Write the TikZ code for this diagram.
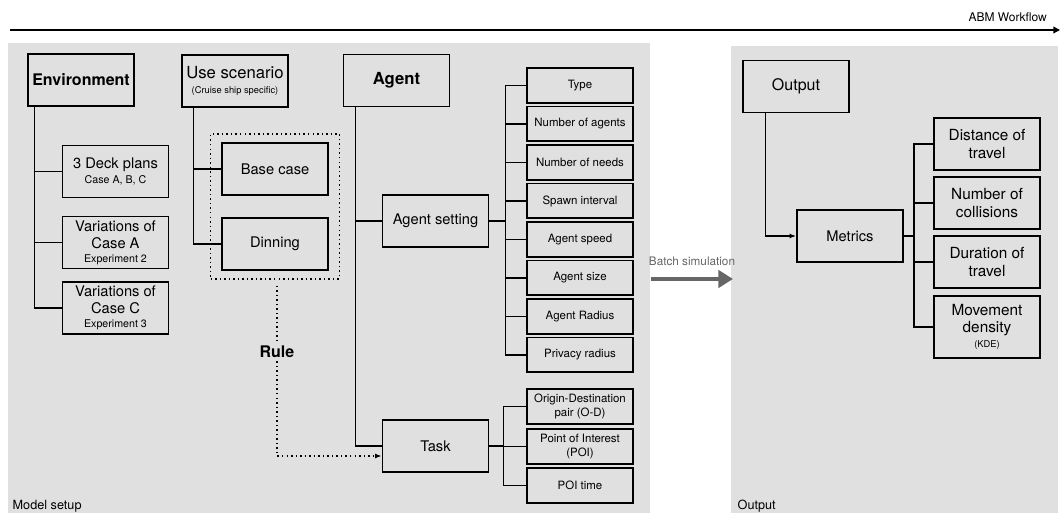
\documentclass[tikz,border=0pt]{standalone}
\usepackage{fontspec}
\setmainfont{TeX Gyre Heros}
\usetikzlibrary{arrows.meta, fit}
\definecolor{panel}{HTML}{E0E0E0}
\definecolor{batch}{HTML}{666666}
\newcommand\tinytxt{\fontsize{7}{8}\selectfont}
\newcommand\subtxt{\fontsize{8}{9}\selectfont}

\begin{document}
\begin{tikzpicture}[x=0.75pt, y=-0.75pt, line width=1pt, >={Latex[length=5pt]},
  box/.style={draw, line width=1.25pt, minimum width=79.5pt, minimum height=39pt,
    align=center, inner sep=1pt, font=\fontsize{11}{12.5}\selectfont},
  item/.style={box, minimum height=26pt, font=\fontsize{8.6}{10}\selectfont},
  rule line/.style={line width=1.2pt, dash pattern=on 1.1pt off 2.3pt}]

\useasboundingbox (0,0) rectangle (1061,513);
\fill [panel] (8,43) rectangle (650,513);
\fill [panel] (731,46) rectangle (1058,513);

% workflow axis
\coordinate (flow-l) at (10,30);
\coordinate (flow-r) at (1060,30);
\draw [-{Triangle[length=5pt, width=5pt]}] (flow-l) -- (flow-r);
\node [anchor=base east, font=\fontsize{9}{10}\selectfont] (flow) at (1052,22) {ABM Workflow};

% environment
\node [box, font=\bfseries\fontsize{12}{13}\selectfont] (env) at (81,80) {Environment};
\node [box] (deck) at (115.5,171.5) {3 Deck plans\\[-1pt]{\subtxt Case A, B, C}};
\node [box] (var-a) at (115.5,242.5) {Variations of\\Case A\\[-2pt]{\subtxt Experiment 2}};
\node [box] (var-c) at (115.5,308) {Variations of\\Case C\\[-2pt]{\subtxt Experiment 3}};
\foreach \n in {deck,var-a,var-c}
  \draw ([xshift=5.25pt]env.south west) |- (\n.west);

% use scenario
\node [box] (use) at (235,81) {{\fontsize{12.5}{14}\selectfont Use scenario}\\[-1pt]{\tinytxt (Cruise ship specific)}};
\node [box] (base) at (275,169) {Base case};
\node [box] (din) at (275,244) {Dinning};
\foreach \n in {base,din}
  \draw ([xshift=9pt]use.south west) |- (\n.west);
\node [rule line, draw, fit=(base)(din), inner xsep=8pt, inner ysep=6pt] (scen) {};

% agent
\node [box, font=\bfseries\fontsize{12.5}{13}\selectfont] (agent) at (396.5,80.5) {Agent};
\node [box] (aset) at (435.5,221) {Agent setting};
\node [box] (task) at (435.5,446) {Task};
\foreach \n in {aset,task}
  \draw ([xshift=9.75pt]agent.south west) |- (\n.west);

\foreach \t [count=\i] in {Type,Number of agents,Number of needs,Spawn interval,
    Agent speed,Agent size,Agent Radius,Privacy radius}
  \node [item] (set-\i) at (580,47+38.5*\i) {\t};
\foreach \i in {1,...,8}
  \draw (aset.east) -- ++(16,0) |- (set-\i.west);

\node [item] (od) at (580,406.5) {Origin-Destination\\pair (O-D)};
\node [item] (poi) at (580,446.5) {Point of Interest\\(POI)};
\node [item] (poi-t) at (580,485.5) {POI time};
\foreach \n in {od,poi,poi-t}
  \draw (task.east) -- ++(14,0) |- (\n.west);

% rule
\node [font=\bfseries\fontsize{12}{13}\selectfont, inner sep=2pt] (rule) at (277,352) {Rule};
\draw [rule line] (scen.south -| rule) ++(0,6) -- (rule);
\draw [rule line, ->] (rule) |- ([yshift=-7.5pt]task.west);

% batch simulation
\coordinate (batch-l) at (651,279);
\coordinate (batch-r) at (733,279);
\draw [batch, line width=3pt, -{Triangle[length=11pt, width=13pt]}] (batch-l) -- (batch-r);
\node [batch, font=\fontsize{8.8}{9}\selectfont, anchor=base] (batch) at (692,266) {Batch simulation};

% output
\node [box, font=\fontsize{12}{13}\selectfont] (out) at (796,86.5) {Output};
\node [box] (met) at (850,236) {Metrics};
\draw [->] ([xshift=17.25pt]out.south west) |- (met.west);

\foreach \t/\y [count=\i] in {Distance of\\travel/144, Number of\\collisions/203,
    Duration of\\travel/262}
  \node [box, font=\fontsize{11.5}{13}\selectfont] (m-\i) at (987,\y) {\t};
\node [box, minimum height=46.5pt, font=\fontsize{11.5}{13}\selectfont] (m-4) at (987,327)
  {Movement\\density\\[-2pt]{\tinytxt (KDE)}};
\foreach \i in {1,...,4}
  \draw (met.east) -- ++(10,0) |- (m-\i.west);

% panel titles
\node [anchor=base west, font=\fontsize{9.5}{10}\selectfont, inner sep=0pt] (setup) at (12,509) {Model setup};
\node [anchor=base west, font=\fontsize{9.5}{10}\selectfont, inner sep=0pt] (output) at (737,509) {Output};
\end{tikzpicture}
\end{document}
